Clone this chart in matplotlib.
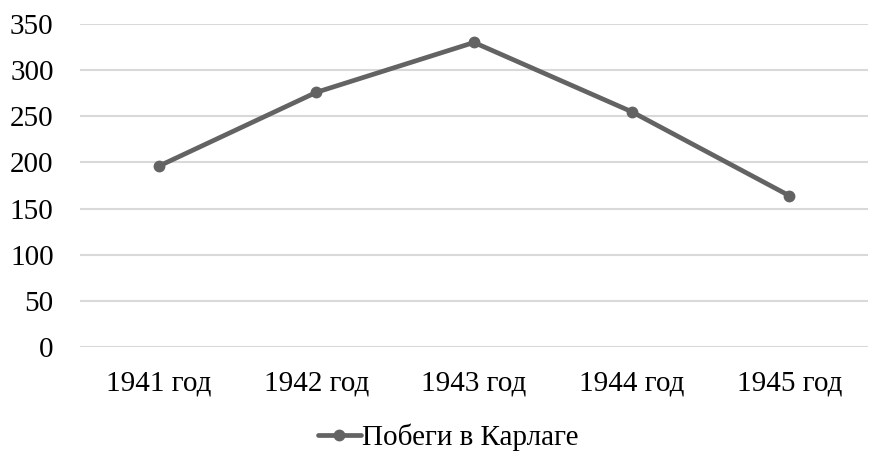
import matplotlib
matplotlib.use("Agg")
import matplotlib.pyplot as plt

categories = ["1941 год", "1942 год", "1943 год", "1944 год", "1945 год"]
values = [196, 276, 330, 255, 164]
series_name = "Побеги в Карлаге"
yticks = [0, 50, 100, 150, 200, 250, 300, 350]

plt.rcParams['font.family'] = ['Liberation Serif', 'DejaVu Serif']

W, H = 869, 451
fig = plt.figure(figsize=(W/100, H/100), dpi=100)
ax = fig.add_axes([80/W, 1-347/H, 788/W, (347-24)/H])

x = list(range(len(categories)))
ax.plot(x, values, color="#636363", lw=3.4, marker="o", ms=7.5,
        solid_capstyle="round", label=series_name, zorder=3)

ax.set_xlim(-0.5, len(categories) - 0.5)
ax.set_ylim(0, 350)
ax.set_yticks(yticks)
ax.set_xticks(x)
ax.set_xticklabels(categories)
ax.yaxis.grid(True, color="#d9d9d9", lw=1.5)
ax.set_axisbelow(True)
for s in ax.spines.values():
    s.set_visible(False)
ax.tick_params(axis="both", length=0, labelsize=21, colors="black")
ax.tick_params(axis="y", pad=19)
ax.tick_params(axis="x", pad=17)

fig.legend(loc="center", bbox_to_anchor=(0.516, 1-437/H), frameon=False,
           fontsize=21, handlelength=1.45, handletextpad=0.05, borderpad=0)

fig.savefig("out.png", dpi=100)
